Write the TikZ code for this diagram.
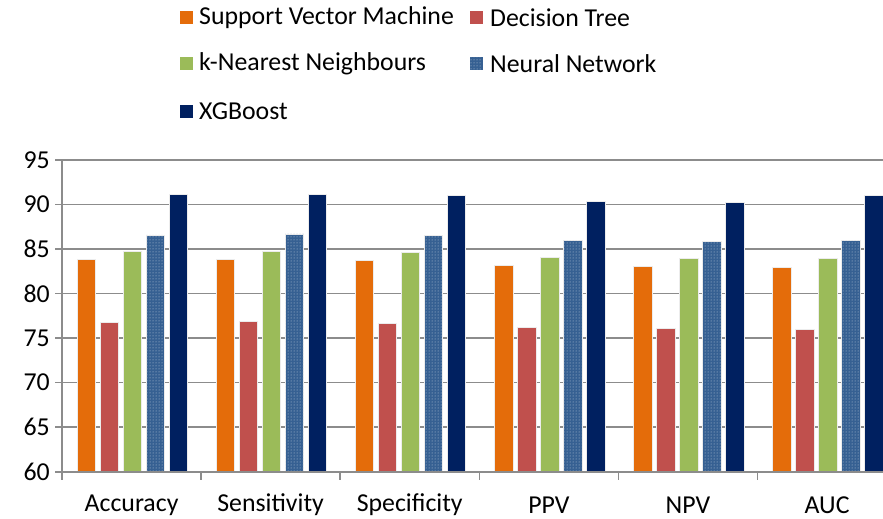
\documentclass[tikz,border=0pt]{standalone}
\usepackage{fontspec}
\setmainfont{Carlito}
\usetikzlibrary{patterns}
\definecolor{cSVM}{HTML}{E46C0A}
\definecolor{cDT}{HTML}{C0504D}
\definecolor{cKNN}{HTML}{9BBB59}
\definecolor{cNN}{HTML}{366092}
\definecolor{cXGB}{HTML}{002060}
\definecolor{gridc}{HTML}{8C8C8C}
\tikzset{
  barbox/.style={draw=white!85!gray, line width=0.6pt},
  nnbar/.style={barbox, fill=cNN, postaction={pattern=dots, pattern color=white!70!cNN}},
  gridline/.style={draw=gridc, line width=1.5pt},
  axisline/.style={draw=gridc, line width=1.6pt},
  lbl/.style={font=\fontsize{25.8}{29}\selectfont, inner sep=0pt},
  legmark/.style={minimum size=13pt, inner sep=0pt, draw=none},
}
\begin{document}
\begin{tikzpicture}[x=1pt, y=-1pt]
\useasboundingbox (0,0) rectangle (883,519);
\clip (0,0) rectangle (883,519);
\fill[white] (0,0) rectangle (883,519);
\pgfmathsetmacro{\yz}{471.7}
\pgfmathsetmacro{\ppu}{8.906}
\pgfmathsetmacro{\xz}{62}
\pgfmathsetmacro{\cw}{139.1}
% gridlines and y labels
\foreach \v in {60,65,...,95} {
  \pgfmathsetmacro{\yy}{\yz-(\v-60)*\ppu}
  \draw[gridline] (55,\yy) -- (883,\yy);
  \node[lbl, anchor=east] (yl\v) at (50,\yy) {\v};
}
% bars
\foreach \cat/\a/\b/\c/\d/\e [count=\i from 0] in {
  Accuracy/83.8/76.8/84.7/86.6/91.1,
  Sensitivity/83.9/76.9/84.8/86.7/91.2,
  Specificity/83.7/76.7/84.6/86.5/91.0,
  PPV/83.2/76.2/84.1/86.0/90.4,
  NPV/83.1/76.1/84.0/85.9/90.3,
  AUC/83.0/76.0/84.0/86.0/91.0} {
  \pgfmathsetmacro{\xs}{\xz+\cw*\i+15}
  \foreach \val/\col/\j in {\a/cSVM/0,\b/cDT/1,\c/cKNN/2,\e/cXGB/4} {
    \pgfmathsetmacro{\bx}{\xs+23*\j}
    \pgfmathsetmacro{\by}{\yz-(\val-60)*\ppu}
    \filldraw[barbox, fill=\col] (\bx,\yz) rectangle (\bx+18.5,\by);
  }
  \pgfmathsetmacro{\bx}{\xs+23*3}
  \pgfmathsetmacro{\by}{\yz-(\d-60)*\ppu}
  \filldraw[nnbar] (\bx,\yz) rectangle (\bx+18.5,\by);
  \node[lbl] (cat\i) at (\xz+\cw*\i+\cw/2,505) {\cat};
}
% axes
\draw[axisline] (62,160) -- (62,480);
\draw[axisline] (55,\yz) -- (883,\yz);
\foreach \i in {1,...,5} {
  \draw[axisline] (\xz+\cw*\i,\yz) -- (\xz+\cw*\i,480);
}
% legend
\node[legmark, fill=cSVM] (m1) at (186,18) {};
\node[lbl, anchor=west] (t1) at (199,18) {Support Vector Machine};
\node[legmark, fill=cDT] (m2) at (476,18) {};
\node[lbl, anchor=west] (t2) at (490,18) {Decision Tree};
\node[legmark, fill=cKNN] (m3) at (186,64) {};
\node[lbl, anchor=west] (t3) at (199,64) {k-Nearest Neighbours};
\node[legmark, fill=cNN, postaction={pattern=dots, pattern color=white!70!cNN}] (m4) at (476,64) {};
\node[lbl, anchor=west] (t4) at (490,64) {Neural Network};
\node[legmark, fill=cXGB] (m5) at (186,111) {};
\node[lbl, anchor=west] (t5) at (199,111) {XGBoost};
\end{tikzpicture}
\end{document}
